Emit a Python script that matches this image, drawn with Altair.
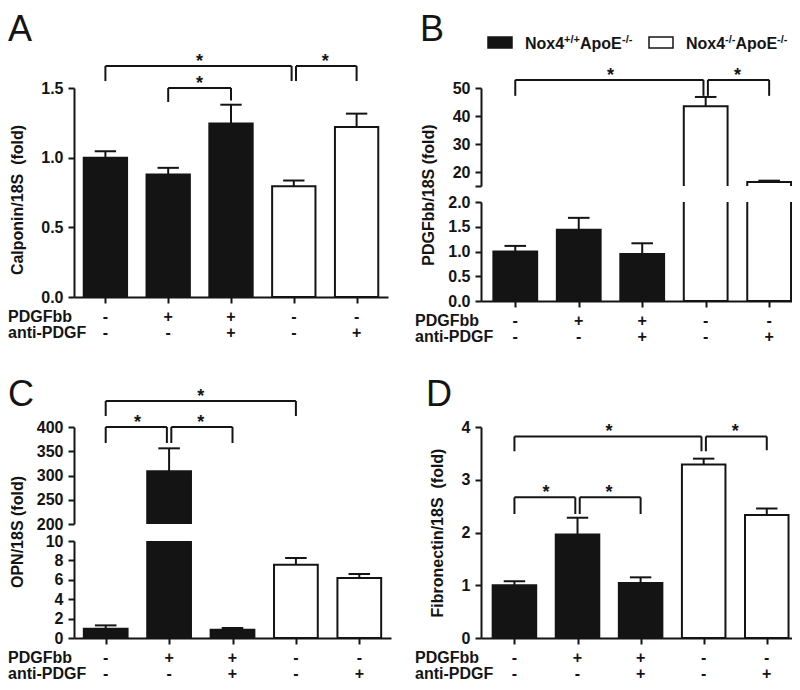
import altair as alt
import pandas as pd

# ---------------- data ----------------
genotype = ["Nox4+/+ApoE-/-", "Nox4+/+ApoE-/-", "Nox4+/+ApoE-/-", "Nox4-/-ApoE-/-", "Nox4-/-ApoE-/-"]
genotype_levels = ["Nox4+/+ApoE-/-", "Nox4-/-ApoE-/-"]
pdgfbb = ["-", "+", "+", "-", "-"]
anti_pdgf = ["-", "-", "+", "-", "+"]

calponin_mean = [1.00, 0.88, 1.245, 0.795, 1.22]
calponin_sem = [0.046, 0.047, 0.135, 0.041, 0.096]
pdgf_mean = [1.00, 1.44, 0.95, 43.5, 16.4]
pdgf_sem = [0.113, 0.24, 0.216, 3.3, 0.5]
opn_mean = [0.96, 309.0, 0.86, 7.56, 6.19]
opn_sem = [0.34, 47.0, 0.17, 0.69, 0.41]
fibronectin_mean = [1.00, 1.96, 1.044, 3.29, 2.33]
fibronectin_sem = [0.076, 0.32, 0.106, 0.11, 0.125]

# significance brackets: (from bar, to bar, bracket level, left end, right end)
calponin_sig = [(0, 3, 1.658, 1.55, 1.55), (3, 4, 1.658, 1.55, 1.55), (1, 2, 1.50, 1.40, 1.41)]
pdgf_sig = [(0, 3, 52.9, 47.2, 47.2), (3, 4, 52.9, 47.2, 47.2)]
opn_sig = [(0, 3, 453.6, 422.7, 422.7), (0, 1, 400.0, 367.0, 367.0), (1, 2, 400.0, 367.0, 367.0)]
fibronectin_sig = [(0, 3, 3.82, 3.54, 3.54), (3, 4, 3.82, 3.54, 3.56),
                   (0, 1, 2.667, 2.35, 2.35), (1, 2, 2.667, 2.35, 2.35)]

# ---------------- style ----------------
FONT = "Liberation Sans"
INK = "#141414"
HALF_BAR = 0.345
HALF_CAP = 0.17
GAP = 0.035
ONE = pd.DataFrame({"k": [0]})


def bar_frame(means, sems):
    return pd.DataFrame({
        "pos": list(range(5)),
        "mean": means,
        "upper": [m + s for m, s in zip(means, sems)],
        "base": [0.0] * 5,
        "genotype": genotype,
    })


def sig_frames(sig):
    segs, stars = [], []
    starts = {s[0] for s in sig}
    ends = {s[1] for s in sig}
    for a, b, top, le, re in sig:
        xa = a + GAP if a in ends else a
        xb = b - GAP if b in starts else b
        segs += [
            {"x": xa, "x2": xa, "y": le, "y2": top},
            {"x": xa, "x2": xb, "y": top, "y2": top},
            {"x": xb, "x2": xb, "y": top, "y2": re},
        ]
        stars.append({"mid": (a + b) / 2, "top": top})
    return pd.DataFrame(segs), pd.DataFrame(stars)


def txt(text, x, y, size=16, weight="bold", align="left", baseline="alphabetic", angle=0):
    kw = dict(text=text, font=FONT, fontSize=size, fontWeight=weight, align=align,
              baseline=baseline, color=INK)
    if angle:
        kw["angle"] = angle
    return alt.Chart(ONE).mark_text(**kw).encode(x=alt.value(x), y=alt.value(y))


def section(means, sems, xdom, ydom, yvals, yfmt, width, height, show_x, clip,
            sig=None, label_expr=None, extra=None):
    df = bar_frame(means, sems)
    xs = alt.Scale(domain=xdom, nice=False, zero=False)
    ys = alt.Scale(domain=ydom, nice=False, zero=False)
    if show_x:
        xaxis = alt.Axis(values=[0, 1, 2, 3, 4], labels=False, title=None, grid=False,
                         domainColor=INK, domainWidth=2, tickColor=INK, tickWidth=2, tickSize=6)
    else:
        xaxis = None
    ykw = dict(values=yvals, format=yfmt, title=None, grid=False, domainColor=INK,
               domainWidth=2, tickColor=INK, tickWidth=2, tickSize=6, labelFont=FONT,
               labelFontSize=16, labelFontWeight="bold", labelColor=INK, labelPadding=5,
               labelOverlap=False)
    if label_expr:
        ykw["labelExpr"] = label_expr
    yaxis = alt.Axis(**ykw)

    def X(f):
        return alt.X(f"{f}:Q", scale=xs, axis=xaxis)

    def Y(f):
        return alt.Y(f"{f}:Q", scale=ys, axis=yaxis)

    layers = []
    layers.append(
        alt.Chart(df)
        .transform_calculate(lo=f"datum.pos - {HALF_BAR}", hi=f"datum.pos + {HALF_BAR}")
        .mark_bar(stroke=INK, strokeWidth=2, clip=clip)
        .encode(
            x=X("lo"), x2=alt.X2("hi"), y=Y("base"), y2=alt.Y2("mean"),
            fill=alt.Fill("genotype:N",
                          scale=alt.Scale(domain=genotype_levels, range=[INK, "#ffffff"]),
                          legend=None),
        )
    )
    layers.append(
        alt.Chart(df).mark_rule(color=INK, strokeWidth=2, clip=clip)
        .encode(x=X("pos"), y=Y("mean"), y2=alt.Y2("upper"))
    )
    layers.append(
        alt.Chart(df)
        .transform_calculate(clo=f"datum.pos - {HALF_CAP}", chi=f"datum.pos + {HALF_CAP}")
        .mark_rule(color=INK, strokeWidth=2, clip=clip)
        .encode(x=X("clo"), x2=alt.X2("chi"), y=Y("upper"))
    )
    if sig:
        segs, stars = sig_frames(sig)
        layers.append(
            alt.Chart(segs).mark_rule(color=INK, strokeWidth=2)
            .encode(x=X("x"), x2=alt.X2("x2"), y=Y("y"), y2=alt.Y2("y2"))
        )
        layers.append(
            alt.Chart(stars).mark_text(text="*", font=FONT, fontSize=18, fontWeight="bold",
                                       color=INK, align="center", baseline="alphabetic", dy=1)
            .encode(x=X("mid"), y=Y("top"))
        )
    if show_x:
        pm = pd.DataFrame({"pos": list(range(5)), "pdgfbb": pdgfbb, "anti": anti_pdgf})
        for field, off in (("pdgfbb", 20), ("anti", 36)):
            layers.append(
                alt.Chart(pm).mark_text(font=FONT, fontSize=16, fontWeight="bold", color=INK,
                                        align="center", baseline="middle")
                .encode(x=X("pos"), y=alt.value(height + off), text=f"{field}:N")
            )
        layers.append(txt("PDGFbb", -66, height + 20, baseline="middle"))
        layers.append(txt("anti-PDGF", -66, height + 36, baseline="middle"))
    if extra:
        layers = extra + layers
    return alt.layer(*layers).properties(width=width, height=height)


# ---------------- panel A ----------------
anchor = alt.Chart(ONE).mark_rect(opacity=0).encode(
    x=alt.value(-66), x2=alt.value(-65), y=alt.value(-80), y2=alt.value(-79))
panel_a = section(
    calponin_mean, calponin_sem, [-0.5, 4.5], [0, 1.5], [0, 0.5, 1.0, 1.5], ".1f",
    314, 209, True, False, sig=calponin_sig,
    extra=[anchor,
           txt("A", -66, -75, size=36, weight="normal", baseline="top"),
           txt("Calponin/18S\u00a0 (fold)", -56.5, 112, align="center", baseline="middle", angle=270)],
)

# ---------------- panel B (broken axis) ----------------
legend_layers = [
    txt("B", -61, -75, size=36, weight="normal", baseline="top"),
    alt.Chart(ONE).mark_rect(fill=INK, stroke=INK, strokeWidth=1.5).encode(
        x=alt.value(7), x2=alt.value(31), y=alt.value(-51), y2=alt.value(-40)),
    txt("Nox4", 44, -39), txt("+/+", 83, -45, size=11), txt("ApoE", 99, -39), txt("-/-", 141, -45, size=11),
    alt.Chart(ONE).mark_rect(fill="#ffffff", stroke=INK, strokeWidth=1.5).encode(
        x=alt.value(168), x2=alt.value(192), y=alt.value(-51), y2=alt.value(-40)),
    txt("Nox4", 205, -39), txt("-/-", 244, -45, size=11), txt("ApoE", 254.5, -39), txt("-/-", 296, -45, size=11),
    txt("PDGFbb/18S (fold)", -52, 107, align="center", baseline="middle", angle=270),
]
b_top = section(
    pdgf_mean, pdgf_sem, [-0.54, 4.36], [15, 50], [15, 20, 30, 40, 50], "d",
    311, 98, False, True, sig=pdgf_sig,
    label_expr="datum.value == 15 ? '' : datum.label", extra=legend_layers,
)
b_bot = section(
    pdgf_mean, pdgf_sem, [-0.54, 4.36], [0, 2], [0, 0.5, 1.0, 1.5, 2.0], ".1f",
    311, 99, True, True,
)
panel_b = alt.vconcat(b_top, b_bot, spacing=16, bounds="flush")

# ---------------- panel C (broken axis) ----------------
c_top = section(
    opn_mean, opn_sem, [-0.5, 4.5], [200, 400], [200, 250, 300, 350, 400], "d",
    317, 97, False, True, sig=opn_sig,
    extra=[txt("C", -66, -49.5, size=36, weight="normal", baseline="top"),
           txt("OPN/18S (fold)", -56.5, 105, align="center", baseline="middle", angle=270)],
)
c_bot = section(
    opn_mean, opn_sem, [-0.5, 4.5], [0, 10], [0, 2, 4, 6, 8, 10], "d",
    317, 97, True, True,
)
panel_c = alt.vconcat(c_top, c_bot, spacing=17, bounds="flush")

# ---------------- panel D ----------------
panel_d = section(
    fibronectin_mean, fibronectin_sem, [-0.53, 4.4], [0, 4], [0, 1, 2, 3, 4], "d",
    311, 211, True, False, sig=fibronectin_sig,
    extra=[txt("D", -55, -49, size=36, weight="normal", baseline="top"),
           txt("Fibronectin/18S\u00a0 (fold)", -43.5, 106, align="center", baseline="middle", angle=270)],
)

# nested concat groups count as zero-size under flush bounds, so spacing is the full offset
row1 = alt.hconcat(panel_a, panel_b, spacing=93, bounds="flush")
row2 = alt.hconcat(panel_c, panel_d, spacing=407, bounds="flush")

chart = (
    alt.vconcat(row1, row2, spacing=339, bounds="flush")
    .properties(padding=0, background="#ffffff")
    .configure_view(stroke=None)
)

chart.save("out.html", embed_options={"renderer": "svg", "actions": False})
